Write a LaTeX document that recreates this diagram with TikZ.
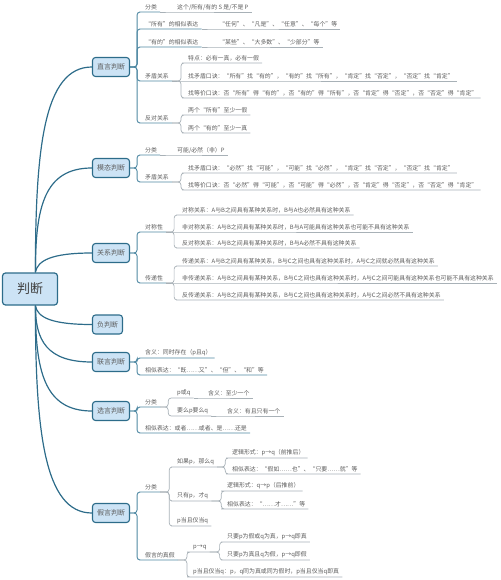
\documentclass[tikz,border=0pt]{standalone}
\usepackage{fontspec}
\newfontfamily\cjk{Noto Sans CJK SC}
\usepackage{tikz}
\definecolor{mapteal}{RGB}{45,108,138}
\definecolor{mapfill}{RGB}{204,227,245}
\definecolor{mapblue}{RGB}{78,136,162}
\definecolor{mapgray}{RGB}{168,177,183}
\definecolor{maptext}{RGB}{92,92,92}

\begin{document}
\begin{tikzpicture}[x=1pt, y=-1pt,
  rootbox/.style={draw=mapteal, fill=mapfill, rounded corners=3pt, line width=1.2pt, font=\cjk\fontsize{13}{15}\selectfont, text=maptext!70!black, minimum width=55pt, minimum height=32pt},
  topicbox/.style={draw=mapteal, fill=mapfill, rounded corners=3pt, line width=1.1pt, font=\cjk\fontsize{7}{8}\selectfont, text=maptext, minimum width=37pt, minimum height=19pt, inner sep=1pt},
  item/.style={anchor=south west, inner xsep=3pt, inner ysep=1.5pt, font=\cjk\fontsize{5.9}{7}\selectfont, text=maptext},
  trunk/.style={draw=mapteal, line width=1.2pt},
  branch/.style={draw=mapblue, line width=0.9pt, rounded corners=3pt},
  twig/.style={draw=mapgray, line width=0.7pt, rounded corners=3pt}
]
\useasboundingbox (0,0) rectangle (500,580);

% Root and main topics
\node[rootbox] (root) at (30,289) {判断};
\node[topicbox] (zy) at (111,67) {直言判断};
\node[topicbox] (mt) at (111,168) {模态判断};
\node[topicbox] (gx) at (111,253) {关系判断};
\node[topicbox, minimum width=30pt] (fp) at (107.5,324.5) {负判断};
\node[topicbox] (ly) at (111,362) {联言判断};
\node[topicbox] (xy) at (111,411) {选言判断};
\node[topicbox] (jy) at (111,513) {假言判断};

\draw[trunk] (root.72) .. controls +(0,-125) and +(-48,0) .. (zy.west);
\draw[trunk] (root.72) .. controls +(0,-65) and +(-48,0) .. (mt.west);
\draw[trunk] (root.72) .. controls +(2,-12) and +(-40,0) .. (gx.west);
\draw[trunk] (root.-72) .. controls +(2,12) and +(-40,0) .. (fp.west);
\draw[trunk] (root.-72) .. controls +(0,35) and +(-45,0) .. (ly.west);
\draw[trunk] (root.-72) .. controls +(0,65) and +(-48,0) .. (xy.west);
\draw[trunk] (root.-72) .. controls +(0,125) and +(-48,0) .. (jy.west);

% 直言判断
\node[item] (zy-a) at (142,12) {分类};
\node[item] (zy-a1) at (174,12) {这个/所有/有的 S 是/不是 P};
\node[item] (zy-b) at (142,29) {“所有”的相似表达};
\node[item] (zy-b1) at (216,29) {“任何”、“凡是”、“任意”、“每个”等};
\node[item] (zy-c) at (142,47) {“有的”的相似表达};
\node[item] (zy-c1) at (216,47) {“某些”、“大多数”、“少部分”等};
\node[item] (zy-d) at (142,81) {矛盾关系};
\node[item] (zy-d1) at (185,63) {特点：必有一真，必有一假};
\node[item] (zy-d2) at (185,81) {找矛盾口诀：“所有”找“有的”，“有的”找“所有”，“肯定”找“否定”，“否定”找“肯定”};
\node[item] (zy-d3) at (185,98) {找等价口诀：否“所有”得“有的”，否“有的”得“所有”，否“肯定”得“否定”，否“否定”得“肯定”};
\node[item] (zy-e) at (142,123) {反对关系};
\node[item] (zy-e1) at (185,115) {两个“所有”至少一假};
\node[item] (zy-e2) at (185,133) {两个“有的”至少一真};

\draw[branch] (zy.east) -- ++(7,0) |- (zy-a.south west) -- (zy-a.south east);
\draw[branch] (zy.east) -- ++(7,0) |- (zy-b.south west) -- (zy-b.south east);
\draw[branch] (zy.east) -- ++(7,0) |- (zy-c.south west) -- (zy-c.south east);
\draw[branch] (zy.east) -- ++(7,0) |- (zy-d.south west) -- (zy-d.south east);
\draw[branch] (zy.east) -- ++(7,0) |- (zy-e.south west) -- (zy-e.south east);
\draw[twig] (zy-a.south east) -- (zy-a1.south west) -- (zy-a1.south east);
\draw[twig] (zy-b.south east) -- (zy-b1.south west) -- (zy-b1.south east);
\draw[twig] (zy-c.south east) -- (zy-c1.south west) -- (zy-c1.south east);
\draw[twig] (zy-d.south east) -- ++(9,0) |- (zy-d1.south west) -- (zy-d1.south east);
\draw[twig] (zy-d.south east) -- (zy-d2.south west) -- (zy-d2.south east);
\draw[twig] (zy-d.south east) -- ++(9,0) |- (zy-d3.south west) -- (zy-d3.south east);
\draw[twig] (zy-e.south east) -- ++(9,0) |- (zy-e1.south west) -- (zy-e1.south east);
\draw[twig] (zy-e.south east) -- ++(9,0) |- (zy-e2.south west) -- (zy-e2.south east);

% 模态判断
\node[item] (mt-a) at (142,155) {分类};
\node[item] (mt-a1) at (174,155) {可能/必然（非）P};
\node[item] (mt-b) at (142,182) {矛盾关系};
\node[item] (mt-b1) at (185,173) {找矛盾口诀：“必然”找“可能”，“可能”找“必然”，“肯定”找“否定”，“否定”找“肯定”};
\node[item] (mt-b2) at (185,190) {找等价口诀：否“必然”得“可能”，否“可能”得“必然”，否“肯定”得“否定”，否“否定”得“肯定”};

\draw[branch] (mt.east) -- ++(7,0) |- (mt-a.south west) -- (mt-a.south east);
\draw[branch] (mt.east) -- ++(7,0) |- (mt-b.south west) -- (mt-b.south east);
\draw[twig] (mt-a.south east) -- (mt-a1.south west) -- (mt-a1.south east);
\draw[twig] (mt-b.south east) -- ++(9,0) |- (mt-b1.south west) -- (mt-b1.south east);
\draw[twig] (mt-b.south east) -- ++(9,0) |- (mt-b2.south west) -- (mt-b2.south east);

% 关系判断
\node[item] (gx-a) at (142,232) {对称性};
\node[item] (gx-a1) at (179,215) {对称关系：A与B之间具有某种关系时，B与A也必然具有这种关系};
\node[item] (gx-a2) at (179,232) {非对称关系：A与B之间具有某种关系时，B与A可能具有这种关系也可能不具有这种关系};
\node[item] (gx-a3) at (179,248) {反对称关系：A与B之间具有某种关系时，B与A必然不具有这种关系};
\node[item] (gx-b) at (142,283) {传递性};
\node[item] (gx-b1) at (179,266) {传递关系：A与B之间具有某种关系，B与C之间也具有这种关系时，A与C之间就必然具有这种关系};
\node[item] (gx-b2) at (179,283) {非传递关系：A与B之间具有某种关系，B与C之间也具有这种关系时，A与C之间可能具有这种关系也可能不具有这种关系};
\node[item] (gx-b3) at (179,300) {反传递关系：A与B之间具有某种关系，B与C之间也具有这种关系时，A与C之间必然不具有这种关系};

\draw[branch] (gx.east) -- ++(7,0) |- (gx-a.south west) -- (gx-a.south east);
\draw[branch] (gx.east) -- ++(7,0) |- (gx-b.south west) -- (gx-b.south east);
\draw[twig] (gx-a.south east) -- ++(8,0) |- (gx-a1.south west) -- (gx-a1.south east);
\draw[twig] (gx-a.south east) -- (gx-a2.south west) -- (gx-a2.south east);
\draw[twig] (gx-a.south east) -- ++(8,0) |- (gx-a3.south west) -- (gx-a3.south east);
\draw[twig] (gx-b.south east) -- ++(8,0) |- (gx-b1.south west) -- (gx-b1.south east);
\draw[twig] (gx-b.south east) -- (gx-b2.south west) -- (gx-b2.south east);
\draw[twig] (gx-b.south east) -- ++(8,0) |- (gx-b3.south west) -- (gx-b3.south east);

% 联言判断
\node[item] (ly-a) at (142,358) {含义：同时存在（p且q）};
\node[item] (ly-b) at (142,375) {相似表达：“既……又”、“但”、“和”等};

\draw[branch] (ly.east) -- ++(7,0) |- (ly-a.south west) -- (ly-a.south east);
\draw[branch] (ly.east) -- ++(7,0) |- (ly-b.south west) -- (ly-b.south east);

% 选言判断
\node[item] (xy-a) at (142,407) {分类};
\node[item] (xy-a1) at (174,398) {p或q};
\node[item] (xy-a1x) at (205,398) {含义：至少一个};
\node[item] (xy-a2) at (174,416) {要么p要么q};
\node[item] (xy-a2x) at (224,416) {含义：有且只有一个};
\node[item] (xy-b) at (142,433) {相似表达：或者……或者、是……还是};

\draw[branch] (xy.east) -- ++(7,0) |- (xy-a.south west) -- (xy-a.south east);
\draw[branch] (xy.east) -- ++(7,0) |- (xy-b.south west) -- (xy-b.south east);
\draw[twig] (xy-a.south east) -- ++(8,0) |- (xy-a1.south west) -- (xy-a1.south east);
\draw[twig] (xy-a.south east) -- ++(8,0) |- (xy-a2.south west) -- (xy-a2.south east);
\draw[twig] (xy-a1.south east) -- (xy-a1x.south west) -- (xy-a1x.south east);
\draw[twig] (xy-a2.south east) -- (xy-a2x.south west) -- (xy-a2x.south east);

% 假言判断
\node[item] (jy-a) at (142,492) {分类};
\node[item] (jy-a1) at (174,467) {如果p，那么q};
\node[item] (jy-a1a) at (229,458) {逻辑形式：p→q（前推后）};
\node[item] (jy-a1b) at (229,474) {相似表达：“假如……也”、“只要……就”等};
\node[item] (jy-a2) at (174,501) {只有p，才q};
\node[item] (jy-a2a) at (224,491) {逻辑形式：q→p（后推前）};
\node[item] (jy-a2b) at (224,509) {相似表达：“……才……”等};
\node[item] (jy-a3) at (174,526) {p当且仅当q};
\node[item] (jy-b) at (142,560) {假言的真假};
\node[item] (jy-b1) at (190,552) {p→q};
\node[item] (jy-b1a) at (224,542) {只要p为假或q为真，p→q即真};
\node[item] (jy-b1b) at (224,560) {只要p为真且q为假，p→q即假};
\node[item] (jy-b2) at (190,577) {p当且仅当q：p，q同为真或同为假时，p当且仅当q即真};

\draw[branch] (jy.east) -- ++(7,0) |- (jy-a.south west) -- (jy-a.south east);
\draw[branch] (jy.east) -- ++(7,0) |- (jy-b.south west) -- (jy-b.south east);
\draw[twig] (jy-a.south east) -- ++(9,0) |- (jy-a1.south west) -- (jy-a1.south east);
\draw[twig] (jy-a.south east) -- ++(9,0) |- (jy-a2.south west) -- (jy-a2.south east);
\draw[twig] (jy-a.south east) -- ++(9,0) |- (jy-a3.south west) -- (jy-a3.south east);
\draw[twig] (jy-a1.south east) -- ++(8,0) |- (jy-a1a.south west) -- (jy-a1a.south east);
\draw[twig] (jy-a1.south east) -- ++(8,0) |- (jy-a1b.south west) -- (jy-a1b.south east);
\draw[twig] (jy-a2.south east) -- ++(10,0) |- (jy-a2a.south west) -- (jy-a2a.south east);
\draw[twig] (jy-a2.south east) -- ++(10,0) |- (jy-a2b.south west) -- (jy-a2b.south east);
\draw[twig] (jy-b.south east) -- ++(9,0) |- (jy-b1.south west) -- (jy-b1.south east);
\draw[twig] (jy-b.south east) -- ++(9,0) |- (jy-b2.south west) -- (jy-b2.south east);
\draw[twig] (jy-b1.south east) -- ++(10,0) |- (jy-b1a.south west) -- (jy-b1a.south east);
\draw[twig] (jy-b1.south east) -- ++(10,0) |- (jy-b1b.south west) -- (jy-b1b.south east);

\end{tikzpicture}
\end{document}
